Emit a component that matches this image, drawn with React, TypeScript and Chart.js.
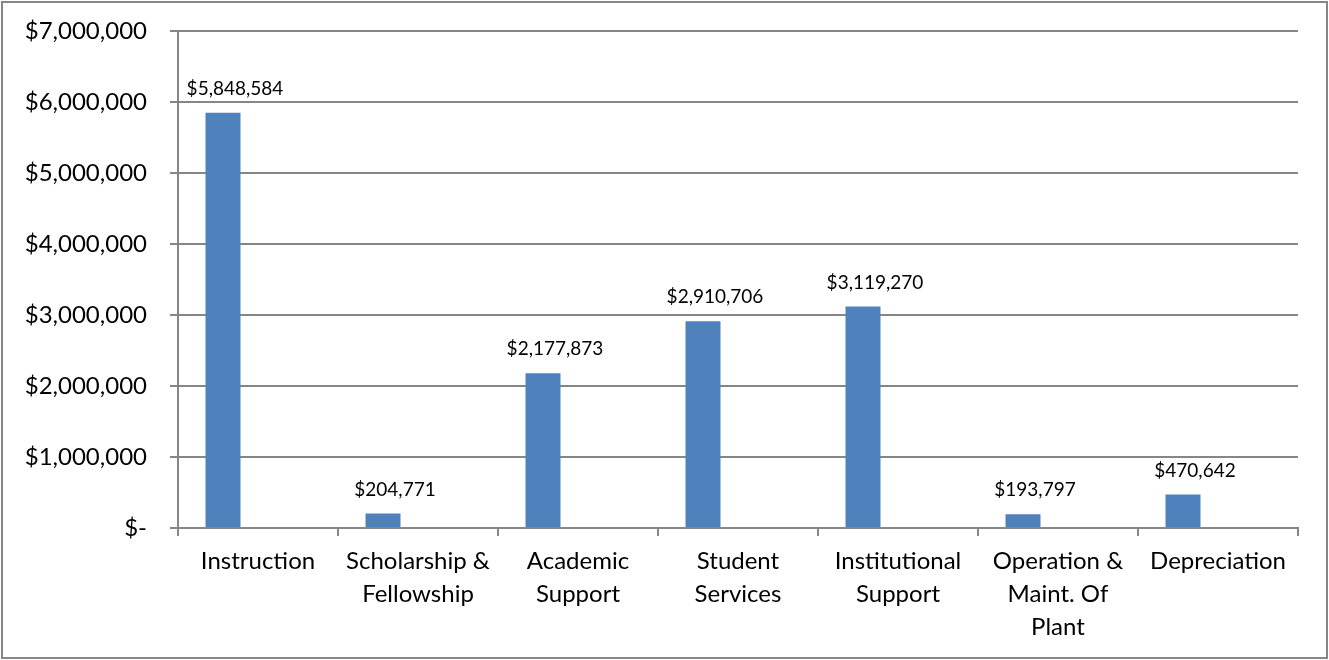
import React, { useEffect, useRef } from "react";
import { Chart, registerables } from "chart.js";

Chart.register(...registerables);

const categories: string[][] = [
  ["Instruction"],
  ["Scholarship &", "Fellowship"],
  ["Academic", "Support"],
  ["Student", "Services"],
  ["Institutional", "Support"],
  ["Operation &", "Maint. Of", "Plant"],
  ["Depreciation"],
];
const expenses: number[] = [5848584, 204771, 2177873, 2910706, 3119270, 193797, 470642];
const emptySeries: (number | null)[] = [null, null, null, null, null, null, null];
const yTicks: number[] = [0, 1000000, 2000000, 3000000, 4000000, 5000000, 6000000, 7000000];

const FONT = "Lato, 'Open Sans', sans-serif";
const GRID = "#868686";

const fmt = (v: number) => (v === 0 ? "$-" : "$" + v.toLocaleString("en-US"));

const framePlugin = {
  id: "frame",
  beforeDraw(chart: any) {
    const { ctx, width, height } = chart;
    ctx.save();
    ctx.fillStyle = "#ffffff";
    ctx.fillRect(0, 0, width, height);
    ctx.strokeStyle = GRID;
    ctx.lineWidth = 2;
    ctx.strokeRect(2, 2, width - 4, height - 4);
    ctx.restore();
  },
};

const labelPlugin = {
  id: "barLabels",
  afterDatasetsDraw(chart: any) {
    const { ctx } = chart;
    const meta = chart.getDatasetMeta(0);
    ctx.save();
    ctx.fillStyle = "#000000";
    ctx.font = `19px ${FONT}`;
    ctx.textAlign = "center";
    ctx.textBaseline = "middle";
    meta.data.forEach((bar: any, i: number) => {
      const v = expenses[i];
      ctx.fillText(fmt(v), bar.x + 12, bar.y - 24);
    });
    ctx.restore();
  },
};

export default function App() {
  const ref = useRef<HTMLCanvasElement | null>(null);
  useEffect(() => {
    document.body.style.margin = "0";
    if (!ref.current) return;
    const chart = new Chart(ref.current, {
      type: "bar",
      data: {
        labels: categories,
        datasets: [
          { label: "Expenses", data: expenses, backgroundColor: "#4F81BD" },
          { label: "s2", data: emptySeries, backgroundColor: "#C0504D" },
          { label: "s3", data: emptySeries, backgroundColor: "#9BBB59" },
        ],
      },
      options: {
        responsive: false,
        animation: false,
        maintainAspectRatio: false,
        layout: { padding: { left: 0, right: 31, top: 31, bottom: 0 } },
        datasets: { bar: { categoryPercentage: 105 / 160, barPercentage: 1 } },
        plugins: { legend: { display: false }, tooltip: { enabled: false } },
        scales: {
          x: {
            offset: true,
            afterFit: (s: any) => {
              s.height = 132;
              s.paddingLeft = 0;
              s.paddingRight = 0;
            },
            grid: {
              offset: true,
              drawOnChartArea: false,
              drawTicks: true,
              tickLength: 8,
              color: GRID,
              lineWidth: 2,
            },
            border: { color: GRID, width: 2 },
            ticks: {
              color: "#000000",
              font: { family: FONT, size: 24, lineHeight: "33px" },
              padding: 9,
              maxRotation: 0,
              autoSkip: false,
            },
          },
          y: {
            min: 0,
            max: 7000000,
            afterFit: (s: any) => {
              s.width = 178;
              s.paddingTop = 0;
              s.paddingBottom = 0;
            },
            afterBuildTicks: (s: any) => { s.ticks = yTicks.map((v) => ({ value: v })); },
            grid: { color: GRID, lineWidth: 2, tickLength: 8 },
            border: { color: GRID, width: 2 },
            ticks: {
              color: "#000000",
              font: { family: FONT, size: 24 },
              padding: 23,
              callback: (v: any) => fmt(Number(v)),
            },
          },
        },
      },
      plugins: [framePlugin, labelPlugin],
    });
    return () => chart.destroy();
  }, []);
  return <canvas ref={ref} width={1329} height={660} style={{ display: "block" }} />;
}
